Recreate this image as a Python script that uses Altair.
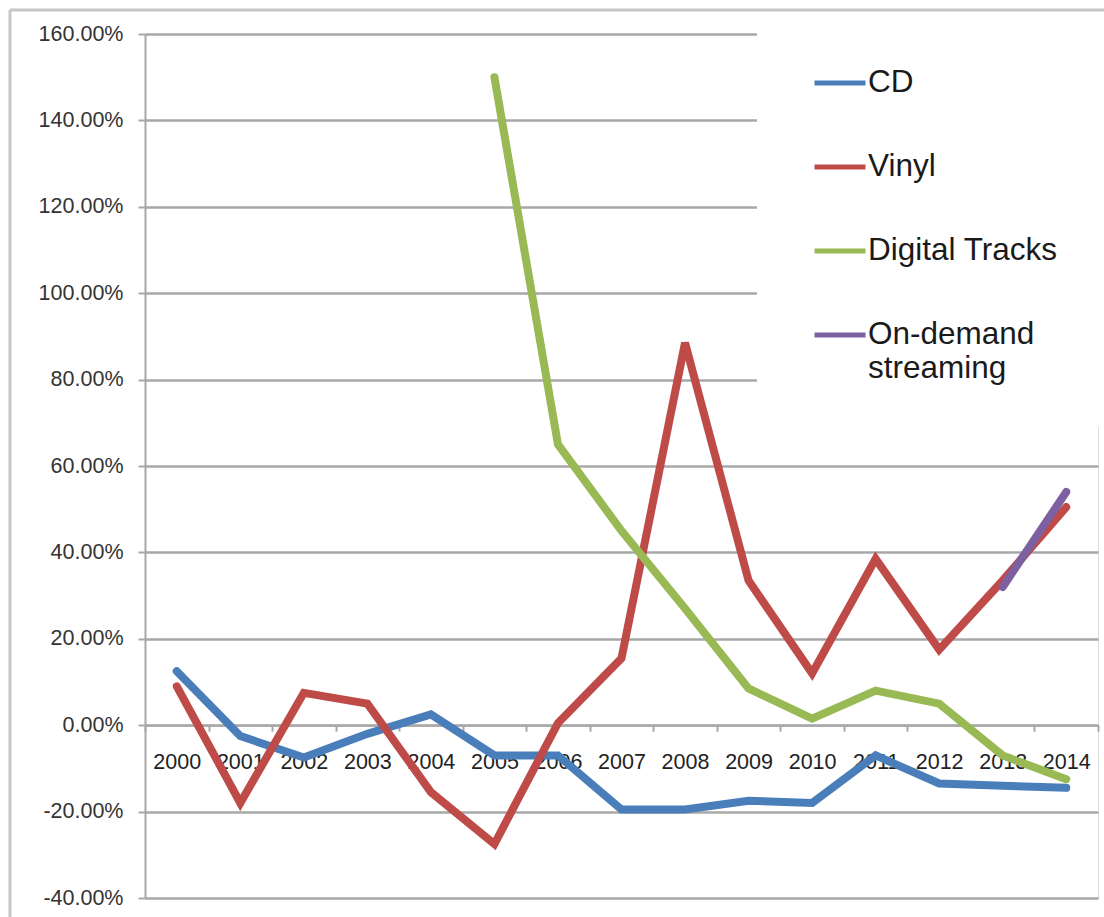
import altair as alt
import pandas as pd

# Year-over-year change in US music sales by format (percent)
years = [2000, 2001, 2002, 2003, 2004, 2005, 2006, 2007, 2008, 2009, 2010, 2011, 2012, 2013, 2014]
cd = [12.5, -2.5, -7.5, -2.0, 2.5, -7.0, -7.0, -19.5, -19.5, -17.5, -18.0, -7.0, -13.5, -14.0, -14.5]
vinyl = [9.0, -18.0, 7.5, 5.0, -15.5, -27.5, 0.5, 15.5, 88.5, 33.5, 12.0, 38.5, 17.5, 33.5, 50.5]
digital = [None, None, None, None, None, 150.0, 65.0, 45.0, 27.0, 8.5, 1.5, 8.0, 5.0, -7.0, -12.5]
streaming = [None, None, None, None, None, None, None, None, None, None, None, None, None, 32.0, 54.0]

series_names = ["CD", "Vinyl", "Digital Tracks", "On-demand streaming"]
series_colors = ["#4a7ebb", "#be4b48", "#98b954", "#7d60a0"]
y_ticks = list(range(-40, 161, 20))

rows = []
for name, values in zip(series_names, [cd, vinyl, digital, streaming]):
    for yr, v in zip(years, values):
        if v is not None:
            rows.append({"year": str(yr), "series": name, "change": v})
df = pd.DataFrame(rows)

FONT = "Liberation Sans"
GRID = "#a8a8a8"
W, H = 953, 864
LEFT, TOP = 145, 34

lines = alt.Chart(df).mark_line(strokeWidth=8, strokeCap="round", strokeJoin="miter").encode(
    x=alt.X(
        "year:O",
        bandPosition=0.5,
        sort=[str(y) for y in years],
        scale=alt.Scale(type="band", paddingInner=0, paddingOuter=0),
        axis=alt.Axis(
            title=None,
            labelAngle=0,
            labelFont=FONT,
            labelFontSize=21.5,
            labelColor="#222222",
            labelBaseline="top",
            labelPadding=20,
            tickBand="extent",
            tickSize=6,
            tickColor=GRID,
            tickWidth=2,
            domainColor=GRID,
            domainWidth=2,
            grid=False,
            offset=-H * 40 / 200,
        ),
    ),
    y=alt.Y(
        "change:Q",
        scale=alt.Scale(domain=[-40, 160], nice=False, zero=False),
        axis=alt.Axis(
            title=None,
            values=y_ticks,
            labelExpr="(datum.value < 0 ? '-' : '') + format(abs(datum.value), '.2f') + '%'",
            labelFont=FONT,
            labelFontSize=21.5,
            labelColor="#333333",
            labelPadding=15,
            tickSize=7,
            tickColor=GRID,
            tickWidth=2,
            domainColor=GRID,
            domainWidth=2,
            grid=True,
            gridColor=GRID,
            gridWidth=2.5,
        ),
    ),
    color=alt.Color(
        "series:N",
        scale=alt.Scale(domain=series_names, range=series_colors),
        legend=alt.Legend(
            title=None,
            orient="none",
            legendX=612,
            legendY=-22,
            fillColor="white",
            padding=43,
            symbolOffset=12,
            symbolType="stroke",
            symbolSize=2600,
            symbolStrokeWidth=5,
            labelFont=FONT,
            labelFontSize=31.5,
            labelColor="#1a1a1a",
            labelOffset=0,
            labelLimit=400,
            rowPadding=40,
            labelExpr="datum.label == 'On-demand streaming' ? ['On-demand', 'streaming'] : datum.label",
        ),
    ),
    detail="series:N",
)

# light outer frame along the top and left edges
frame_data = alt.Data(values=[{"k": 0}])
frame_top = alt.Chart(frame_data).mark_rule(color="#c6c6c6", strokeWidth=3).encode(
    x=alt.value(10 - LEFT), x2=alt.value(1104 - LEFT), y=alt.value(10 - TOP)
)
frame_left = alt.Chart(frame_data).mark_rule(color="#c6c6c6", strokeWidth=3).encode(
    x=alt.value(10 - LEFT), y=alt.value(10 - TOP), y2=alt.value(917 - TOP)
)

chart = alt.layer(frame_top, frame_left, lines).properties(
    width=W,
    height=H,
    autosize=alt.AutoSizeParams(type="none"),
    padding={"left": LEFT, "top": TOP, "right": 1104 - LEFT - W, "bottom": 917 - TOP - H},
).configure_view(stroke=None).configure(background="white")

chart.save("out.html", embed_options={"renderer": "svg", "actions": False})
